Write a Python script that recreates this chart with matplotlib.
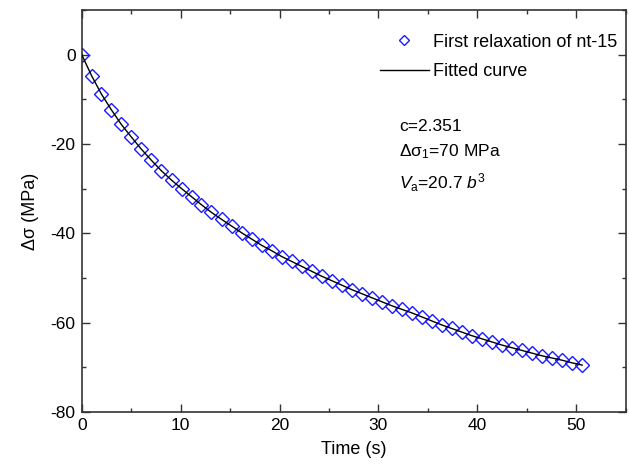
import matplotlib
matplotlib.use("Agg")
import matplotlib.pyplot as plt
from matplotlib.ticker import MultipleLocator

plt.rcParams["font.family"] = ["Liberation Sans", "DejaVu Sans"]
plt.rcParams["mathtext.fontset"] = "custom"
plt.rcParams["mathtext.rm"] = "Liberation Sans"
plt.rcParams["mathtext.it"] = "Liberation Sans:italic"
plt.rcParams["axes.unicode_minus"] = False

# relaxation data
time_s = [0, 0.99, 1.98, 2.98, 3.99, 5.0, 6.0, 7.02, 8.05, 9.08,
          10.1, 11.1, 12.1, 13.1, 14.15, 15.17, 16.18, 17.19, 18.2, 19.21,
          20.22, 21.23, 22.24, 23.25, 24.26, 25.28, 26.29, 27.3, 28.3, 29.31,
          30.32, 31.33, 32.34, 33.36, 34.37, 35.38, 36.39, 37.4, 38.41, 39.42,
          40.44, 41.45, 42.46, 43.47, 44.48, 45.49, 46.5, 47.52, 48.55, 49.58,
          50.6]
dsig = [0, -4.7, -8.8, -12.3, -15.6, -18.4, -21.1, -23.6, -26.0, -28.1,
        -30.0, -31.8, -33.6, -35.3, -36.9, -38.4, -39.9, -41.3, -42.7, -43.9,
        -45.2, -46.3, -47.4, -48.5, -49.6, -50.6, -51.6, -52.6, -53.5, -54.4,
        -55.3, -56.2, -57.0, -57.8, -58.7, -59.6, -60.5, -61.3, -62.1, -62.9,
        -63.6, -64.3, -65.0, -65.6, -66.2, -66.8, -67.4, -67.9, -68.4, -69.0,
        -69.5]

fig = plt.figure(figsize=(6.29, 4.71), dpi=100)
ax = fig.add_axes([0.130, 0.1253, 0.8647, 0.8535])

ax.plot(time_s, dsig, linestyle="none", marker="D", markersize=6.8,
        markerfacecolor="none", markeredgecolor="#1a1aff", markeredgewidth=1.0,
        label="First relaxation of nt-15", zorder=2)
ax.plot(time_s, dsig, color="black", linewidth=1.0, label="Fitted curve", zorder=3)

ax.set_xlim(0, 55)
ax.set_ylim(-80, 10)
ax.xaxis.set_major_locator(MultipleLocator(10))
ax.xaxis.set_minor_locator(MultipleLocator(5))
ax.yaxis.set_major_locator(MultipleLocator(20))
ax.yaxis.set_minor_locator(MultipleLocator(10))
ax.tick_params(which="both", direction="in", top=True, right=True,
               labelsize=12.5, color="#333333", width=1.0)
ax.tick_params(axis="x", pad=4)
ax.tick_params(axis="y", pad=4.5)
ax.tick_params(which="major", length=5.5)
ax.tick_params(which="minor", length=3)
for sp in ax.spines.values():
    sp.set_linewidth(1.2)
    sp.set_color("#333333")

ax.set_xlabel("Time (s)", fontsize=13, labelpad=6)
ax.set_ylabel("\u0394\u03c3 (MPa)", fontsize=13, labelpad=8)

leg = ax.legend(loc="upper right", bbox_to_anchor=(1.005, 0.968), frameon=False,
                fontsize=13, handlelength=2.7, handletextpad=0.25,
                labelspacing=0.7, borderaxespad=0.2, markerscale=0.7)

ax.text(0.583, 0.70, "c=2.351", transform=ax.transAxes, fontsize=12.5)
ax.text(0.583, 0.635, "\u0394\u03c3" + r"$_\mathregular{1}$=70 MPa",
        transform=ax.transAxes, fontsize=12.5)
ax.text(0.583, 0.555, r"$\mathit{V}_\mathregular{a}$=20.7 $\mathit{b}^\mathregular{3}$",
        transform=ax.transAxes, fontsize=12.5)

fig.savefig("out.png", dpi=100)
